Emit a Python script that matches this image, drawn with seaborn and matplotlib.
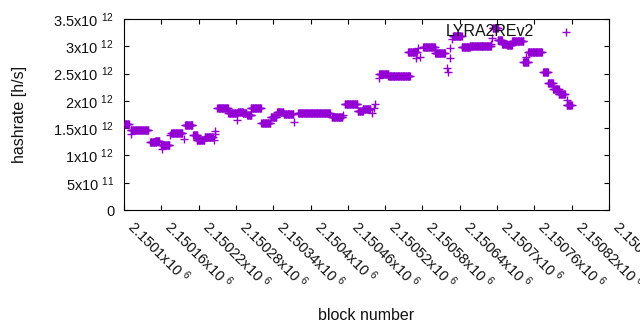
import numpy as np
import pandas as pd
import matplotlib
matplotlib.use("Agg")
import matplotlib.pyplot as plt
import seaborn as sns

# ---- data ----
# runs of blocks with a constant hashrate estimate (first block, last block, h/s)
run_start = [2150101, 2150111, 2150142, 2150150, 2150159, 2150176, 2150198, 2150211,
             2150217, 2150230, 2150250, 2150268, 2150283, 2150291, 2150298, 2150304,
             2150321, 2150336, 2150346, 2150357, 2150380, 2150434, 2150455, 2150476,
             2150484, 2150510, 2150525, 2150557, 2150581, 2150600, 2150629, 2150643,
             2150656, 2150676, 2150693, 2150701, 2150708, 2150716, 2150724, 2150742,
             2150750, 2150774, 2150782, 2150790, 2150799, 2150812]
run_end = [2150108, 2150139, 2150152, 2150157, 2150173, 2150194, 2150210, 2150218,
           2150229, 2150243, 2150267, 2150282, 2150291, 2150297, 2150305, 2150320,
           2150335, 2150345, 2150356, 2150372, 2150431, 2150451, 2150475, 2150484,
           2150496, 2150525, 2150560, 2150571, 2150600, 2150616, 2150643, 2150656,
           2150676, 2150690, 2150701, 2150708, 2150716, 2150724, 2150742, 2150750,
           2150772, 2150782, 2150790, 2150799, 2150809, 2150820]
run_value = [1.57e12, 1.46e12, 1.24e12, 1.27e12, 1.19e12, 1.42e12, 1.56e12, 1.38e12,
             1.28e12, 1.33e12, 1.86e12, 1.77e12, 1.80e12, 1.78e12, 1.74e12, 1.86e12,
             1.60e12, 1.70e12, 1.80e12, 1.76e12, 1.77e12, 1.70e12, 1.94e12, 1.82e12,
             1.85e12, 2.50e12, 2.46e12, 2.90e12, 2.99e12, 2.87e12, 3.18e12, 2.98e12,
             3.01e12, 3.00e12, 3.34e12, 3.12e12, 3.05e12, 3.02e12, 3.10e12, 2.72e12,
             2.89e12, 2.52e12, 2.32e12, 2.22e12, 2.12e12, 1.93e12]

# isolated blocks
single_block = [2150111, 2150161, 2150174, 2150197, 2150244, 2150246, 2150247, 2150281,
                2150373, 2150452, 2150499, 2150502, 2150504, 2150510, 2150569, 2150573,
                2150576, 2150619, 2150621, 2150624, 2150624, 2150627, 2150690, 2150692,
                2150746, 2150812]
single_value = [1.40e12, 1.12e12, 1.37e12, 1.30e12, 1.28e12, 1.45e12, 1.40e12, 1.65e12,
                1.61e12, 1.74e12, 1.78e12, 1.86e12, 1.95e12, 2.42e12, 2.79e12, 2.97e12,
                2.80e12, 2.60e12, 2.53e12, 2.97e12, 2.79e12, 3.13e12, 3.05e12, 3.15e12,
                2.80e12, 2.02e12]

series_name = "LYRA2REv2"

xtick_values = [2150100, 2150160, 2150220, 2150280, 2150340, 2150400, 2150460,
                2150520, 2150580, 2150640, 2150700, 2150760, 2150820, 2150880]
xtick_mantissa = ["2.1501", "2.15016", "2.15022", "2.15028", "2.15034", "2.1504",
                  "2.15046", "2.15052", "2.15058", "2.15064", "2.1507", "2.15076",
                  "2.15082", "2.15088"]
ytick_values = [0, 0.5e12, 1.0e12, 1.5e12, 2.0e12, 2.5e12, 3.0e12, 3.5e12]
ytick_mantissa = ["0", "5", "1", "1.5", "2", "2.5", "3", "3.5"]
ytick_exponent = [None, "11", "12", "12", "12", "12", "12", "12"]

# ---- build table ----
blocks, values = [], []
for s, e, v in zip(run_start, run_end, run_value):
    b = np.arange(s, e + 1)
    blocks.extend(b.tolist())
    values.extend([v] * len(b))
blocks.extend(single_block)
values.extend(single_value)
df = pd.DataFrame({"block": blocks, "hashrate": values})

# ---- style ----
sns.set_style("white")
plt.rcParams["font.family"] = ["Liberation Sans", "DejaVu Sans"]
plt.rcParams["mathtext.fontset"] = "custom"
plt.rcParams["mathtext.rm"] = "Liberation Sans"
plt.rcParams["mathtext.it"] = "Liberation Sans"
plt.rcParams["mathtext.default"] = "regular"

color = "#9400D3"
fig = plt.figure(figsize=(6.4, 3.3), dpi=100)
ax = fig.add_axes([124 / 640, 1 - 210 / 330, 485 / 640, 191 / 330])

sns.scatterplot(data=df, x="block", y="hashrate", marker="+", color=color,
                s=32, linewidth=1.0, label=series_name, ax=ax, zorder=3)

ax.set_xlim(2150100, 2150880)
ax.set_ylim(0, 3.5e12)

ax.set_xticks(xtick_values)
ax.set_xticklabels([m + "x10 $^{6}$" for m in xtick_mantissa],
                   rotation=-45, ha="left", va="top", rotation_mode="default",
                   fontsize=10.5)

ax.set_yticks(ytick_values)
ax.set_yticklabels([m if e is None else m + "x10 $^{" + e + "}$"
                    for m, e in zip(ytick_mantissa, ytick_exponent)], fontsize=10.5)

for sp in ax.spines.values():
    sp.set_visible(True)
    sp.set_color("black")
    sp.set_linewidth(0.8)
ax.tick_params(axis="both", direction="in", length=3.5, width=0.8, color="black",
               top=True, right=True, bottom=True, left=True, labelcolor="#111111")
ax.tick_params(axis="x", pad=5)
ax.tick_params(axis="y", pad=7)

ax.set_xlabel("block number", fontsize=11.5, color="#111111")
ax.set_ylabel("hashrate [h/s]", fontsize=11.5, color="#111111")
ax.xaxis.set_label_coords(0.5, -0.515)
ax.yaxis.set_label_coords(-0.2, 0.5)

leg = ax.legend(loc="center right", bbox_to_anchor=(0.945, 0.932), frameon=False,
                markerfirst=False, handlelength=2.0, handletextpad=1.0,
                borderpad=0, borderaxespad=0, fontsize=11.5)
for t in leg.get_texts():
    t.set_color("#111111")

fig.savefig("out.png", dpi=100)
